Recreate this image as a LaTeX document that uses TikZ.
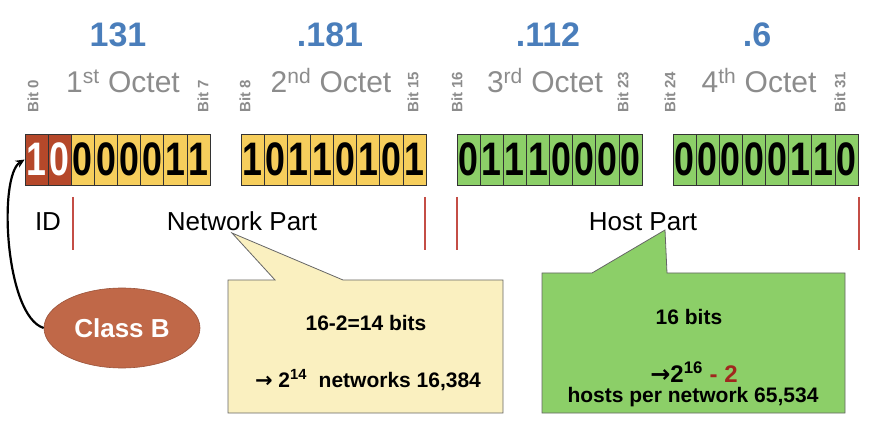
\documentclass[tikz,border=0pt]{standalone}
\usepackage{fontspec}
\setmainfont{Liberation Sans}
\newfontfamily\arrowfont{DejaVu Sans}
\usetikzlibrary{arrows.meta,shapes.geometric}
\definecolor{numblue}{RGB}{74,126,187}
\definecolor{lblgray}{RGB}{140,140,140}
\definecolor{bitred}{RGB}{181,72,42}
\definecolor{bityel}{RGB}{246,206,92}
\definecolor{bitgrn}{RGB}{140,207,104}
\definecolor{sepred}{RGB}{196,78,70}
\definecolor{callyel}{RGB}{250,240,192}
\definecolor{classbr}{RGB}{192,104,72}
\definecolor{minusred}{RGB}{160,40,30}
\newcommand{\rarr}{{\arrowfont\bfseries →}}
\tikzset{
  cell/.style={draw=black!80, line width=0.7pt, minimum width=23.125pt, minimum height=51pt, inner sep=0pt, font=\fontsize{47}{47}\selectfont\bfseries},
  octnum/.style={anchor=base, text=numblue, font=\fontsize{34}{34}\selectfont\bfseries},
  octlbl/.style={anchor=base, text=lblgray, font=\fontsize{30}{30}\selectfont},
  bitlbl/.style={anchor=west, rotate=90, inner sep=0pt, text=lblgray, font=\fontsize{15}{15}\selectfont\bfseries},
  seprule/.style={draw=sepred, line width=1.8pt},
  partlbl/.style={anchor=base, font=\fontsize{26}{26}\selectfont},
  callout/.style={draw=black!60, line width=0.8pt},
  calltxt/.style={font=\fontsize{21}{21}\selectfont\bfseries},
}
\begin{document}
\begin{tikzpicture}[x=1pt,y=1pt]
\useasboundingbox (0,0) rectangle (870,426);
% octet numbers
\node[octnum] (n1) at (118,379) {131};
\node[octnum] (n2) at (330,379) {.181};
\node[octnum] (n3) at (548,379) {.112};
\node[octnum] (n4) at (757,379) {.6};
% octet labels
\node[octlbl] (o1) at (123,333) {1\textsuperscript{st} Octet};
\node[octlbl] (o2) at (331,333) {2\textsuperscript{nd} Octet};
\node[octlbl] (o3) at (545,333) {3\textsuperscript{rd} Octet};
\node[octlbl] (o4) at (759,333) {4\textsuperscript{th} Octet};
% bit labels
\node[bitlbl] (b0) at (33,313) {Bit 0};
\node[bitlbl] (b7) at (203,313) {Bit 7};
\node[bitlbl] (b8) at (245,313) {Bit 8};
\node[bitlbl] (b15) at (413,313) {Bit 15};
\node[bitlbl] (b16) at (457,313) {Bit 16};
\node[bitlbl] (b23) at (623,313) {Bit 23};
\node[bitlbl] (b24) at (670,313) {Bit 24};
\node[bitlbl] (b31) at (840,313) {Bit 31};
% bit cells
\foreach \o/\bl/\fc in {0/{1,0,0,0,0,0,1,1}/bityel,1/{1,0,1,1,0,1,0,1}/bityel,2/{0,1,1,1,0,0,0,0}/bitgrn,3/{0,0,0,0,0,1,1,0}/bitgrn}{
  \foreach \d [count=\i] in \bl {
    \ifnum\o=0 \ifnum\i<3 \def\fcc{bitred}\def\tcc{white}\else\def\fcc{\fc}\def\tcc{black}\fi\else\def\fcc{\fc}\def\tcc{black}\fi
    \node[cell, fill=\fcc, text=\tcc] (c\o-\i) at ({25+216*\o+23.125*(\i-0.5)}, 266.5) {\scalebox{0.76}[1]{\d}};
  }
}
% separators
\coordinate (s1t) at (73,229); \coordinate (s1b) at (73,176);
\coordinate (s2t) at (425,229); \coordinate (s2b) at (425,176);
\coordinate (s3t) at (457,229); \coordinate (s3b) at (457,176);
\coordinate (s4t) at (859,229); \coordinate (s4b) at (859,176);
\draw[seprule] (s1t) -- (s1b);
\draw[seprule] (s2t) -- (s2b);
\draw[seprule] (s3t) -- (s3b);
\draw[seprule] (s4t) -- (s4b);
% part labels
\node[partlbl] (idl) at (48,195) {ID};
\node[partlbl] (netl) at (242,195) {Network Part};
\node[partlbl] (hostl) at (643,195) {Host Part};
% callout network
\draw[callout, fill=callyel] (228,146) -- (275,146) -- (232,193) -- (343,146) -- (503,146) -- (503,13) -- (228,13) -- cycle;
\node[calltxt] (nt1) at (366,103) {16-2=14 bits};
\node[calltxt] (nt2) at (368,46) {\rarr\ 2\textsuperscript{14}\ \ networks 16,384};
% callout host
\draw[callout, fill=bitgrn] (542,153) -- (592,153) -- (665,196) -- (667,153) -- (845,153) -- (845,13) -- (542,13) -- cycle;
\node[calltxt] (ht1) at (689,109) {16 bits};
\node[calltxt, font=\fontsize{24}{24}\selectfont\bfseries] (ht2) at (694,54) {\rarr2\textsuperscript{16} \textcolor{minusred}{- 2}};
\node[calltxt] (ht3) at (693,29) {hosts per network 65,534};
% class B
\node[ellipse, fill=classbr, draw=classbr!80!black, line width=0.6pt, minimum width=156pt, minimum height=80pt, text=white, font=\fontsize{26}{26}\selectfont\bfseries] (cls) at (122,98) {Class B};
\draw[line width=2.2pt, -{Stealth[length=9pt,width=8pt]}] (cls.west) .. controls (5,110) and (-2,250) .. (c0-1.west);
\end{tikzpicture}
\end{document}
